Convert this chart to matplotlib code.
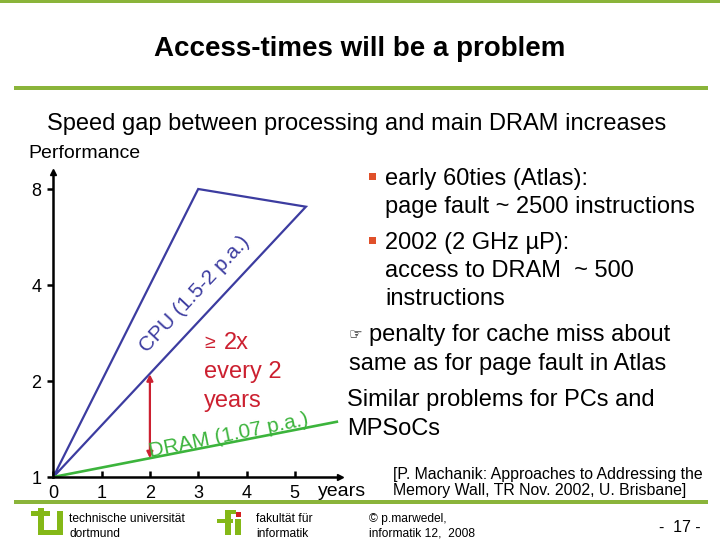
import matplotlib
matplotlib.use("Agg")
import matplotlib.pyplot as plt
from matplotlib import font_manager
from matplotlib.patches import Rectangle
from matplotlib.ticker import NullLocator

# --- data ---
cpu_years = [0, 3, 5.23, 0]          # triangle outline, 1.5x .. 2x per year
cpu_perf = [1, 8, 7.04, 1]
dram_years = [0, 5.87]
dram_perf = [1, 1.49]
gap_year = 2
gap_low, gap_high = 1.145, 2.1

x_ticks = [0, 1, 2, 3, 4, 5]
y_ticks = [1, 2, 4, 8]
y_tick_labels = ["1", "2", "4", "8"]

bullet_lines = [
    ("early 60ties (Atlas):", True),
    ("page fault ~ 2500 instructions", False),
    ("2002 (2 GHz µP):", True),
    ("access to DRAM  ~ 500", False),
    ("instructions", False),
]
tail_lines = [
    "penalty for cache miss about",
    "same as for page fault in Atlas",
    "Similar problems for PCs and",
    "MPSoCs",
]

BLUE = "#3c3ca0"
GREEN = "#3cb43c"
RED = "#cc2030"
BAR_GREEN = "#8ab43a"
LOGO_GREEN = "#84b817"

names = {f.name for f in font_manager.fontManager.ttflist}
BASE = "Liberation Sans"
NARROW = "Liberation Sans Narrow" if "Liberation Sans Narrow" in names else BASE
narrow_scale = 1.0 if NARROW != BASE else 0.82

plt.rcParams["font.family"] = [BASE, "DejaVu Sans"]

W, H = 720, 540
fig = plt.figure(figsize=(7.2, 5.4), dpi=100)


def px(x, y):
    return x / W, 1 - y / H


def ftext(x, y, s, dy=3, **kw):
    # va=center sits a few px high against the slide, hence dy
    kw.setdefault("va", "center")
    kw.setdefault("ha", "left")
    fig.text(*px(x, y + dy), s, **kw)


def frect(x0, y0, x1, y1, color):
    fx0, fy1 = px(x0, y0)
    fx1, fy0 = px(x1, y1)
    fig.patches.append(Rectangle((fx0, fy0), fx1 - fx0, fy1 - fy0,
                                 transform=fig.transFigure, color=color, lw=0))


# slide decoration
frect(0, 0, 720, 2.5, BAR_GREEN)
frect(14, 86, 708, 90, BAR_GREEN)
frect(14, 500, 708, 504, BAR_GREEN)

ftext(360, 46, "Access-times will be a problem", ha="center",
      fontsize=20, fontweight="bold")
ftext(357, 121, "Speed gap between processing and main DRAM increases",
      ha="center", fontsize=17)

# chart axes mapped to the slide pixels: x 48.3 px / year, y 96 px / doubling
x0, y0, x1, y1 = 53.3, 477, 340, 172
ax = fig.add_axes([x0 / W, 1 - y0 / H, (x1 - x0) / W, (y0 - y1) / H])
ax.set_yscale("log", base=2)
ax.set_xlim(0, (x1 - x0) / 48.3)
ax.set_ylim(1, 2 ** ((y0 - y1) / 96))
ax.patch.set_alpha(0)
for side in ("top", "right"):
    ax.spines[side].set_visible(False)
for side in ("left", "bottom"):
    ax.spines[side].set_linewidth(1.8)

ax.set_xticks(x_ticks)
ax.set_xticklabels([str(t) for t in x_ticks])
ax.set_yticks(y_ticks)
ax.set_yticklabels(y_tick_labels)
ax.yaxis.set_minor_locator(NullLocator())
ax.tick_params(axis="x", direction="in", length=4, width=1.8, pad=6,
               labelsize=13)
ax.tick_params(axis="y", direction="out", length=4.5, width=1.8, pad=4,
               labelsize=13)
ax.plot(0, 1, "^k", ms=5, transform=ax.transAxes, clip_on=False)
ax.plot(1, 0, ">k", ms=5, transform=ax.transAxes, clip_on=False)

ax.plot(cpu_years, cpu_perf, color=BLUE, lw=1.6, clip_on=False,
        solid_joinstyle="miter")
ax.plot(dram_years, dram_perf, color=GREEN, lw=1.9, clip_on=False)
ax.annotate("", xy=(gap_year, gap_high), xytext=(gap_year, gap_low),
            arrowprops=dict(arrowstyle="<|-|>", color=RED, lw=1.6,
                            mutation_scale=9, shrinkA=0, shrinkB=0))

ftext(195, 294, "CPU (1.5-2 p.a.)", dy=0, ha="center", color=BLUE,
      fontsize=15, rotation=47, rotation_mode="anchor")
ftext(229, 436, "DRAM (1.07 p.a.)", dy=0, ha="center", color=GREEN,
      fontsize=15, rotation=11.5, rotation_mode="anchor")

ftext(204, 340, "≥", color=RED, fontsize=14)
ftext(224, 340, "2x", color=RED, fontsize=17)
ftext(204, 369, "every 2", color=RED, fontsize=17)
ftext(204, 398, "years", color=RED, fontsize=17)

ftext(28, 150, "Performance", fontsize=14)
ftext(318, 489, "years", fontsize=14)

# right-hand text
ys = [176, 204, 240, 268, 296]
for (line, bullet), y in zip(bullet_lines, ys):
    if bullet:
        frect(369, y - 3, 376, y + 4, "#e0502a")
    ftext(385, y, line, fontsize=17)

ftext(349, 332, "\u261e", fontsize=11, family=["DejaVu Sans"])
tail_y = [332, 361, 397, 426]
tail_x = [369, 349, 347, 347]
for line, x, y in zip(tail_lines, tail_x, tail_y):
    ftext(x, y, line, fontsize=17)

ftext(393, 471, "[P. Machanik: Approaches to Addressing the",
      fontsize=14 * narrow_scale, family=[NARROW, "DejaVu Sans"])
ftext(393, 488, "Memory Wall, TR Nov. 2002, U. Brisbane]",
      fontsize=14 * narrow_scale, family=[NARROW, "DejaVu Sans"])

# footer logos
frect(31, 511, 50, 516, LOGO_GREEN)       # t cross bar
frect(38, 508, 44, 535, LOGO_GREEN)       # t stem
frect(38, 530, 63, 535, LOGO_GREEN)       # joined base
frect(57, 511, 63, 535, LOGO_GREEN)       # u right stem
frect(225, 513, 231, 535, LOGO_GREEN)     # f stem
frect(225, 510, 236, 514, LOGO_GREEN)     # f top
frect(217, 519, 233, 523, LOGO_GREEN)     # f cross bar
frect(235, 519, 241, 535, LOGO_GREEN)     # i stem
frect(236, 512, 241, 517, "#d42020")      # i dot

foot = dict(fontsize=10.5 * narrow_scale, family=[NARROW, "DejaVu Sans"])
ftext(69, 516, "technische universität", **foot)
ftext(69, 531, "dortmund", **foot)
ftext(256, 516, "fakultät für", **foot)
ftext(256, 531, "informatik", **foot)
ftext(369, 516, "© p.marwedel,", **foot)
ftext(369, 531, "informatik 12,  2008", **foot)
ftext(680, 525, "-  17 -", ha="center", fontsize=14 * narrow_scale,
      family=[NARROW, "DejaVu Sans"])

fig.savefig("out.png", dpi=100)
